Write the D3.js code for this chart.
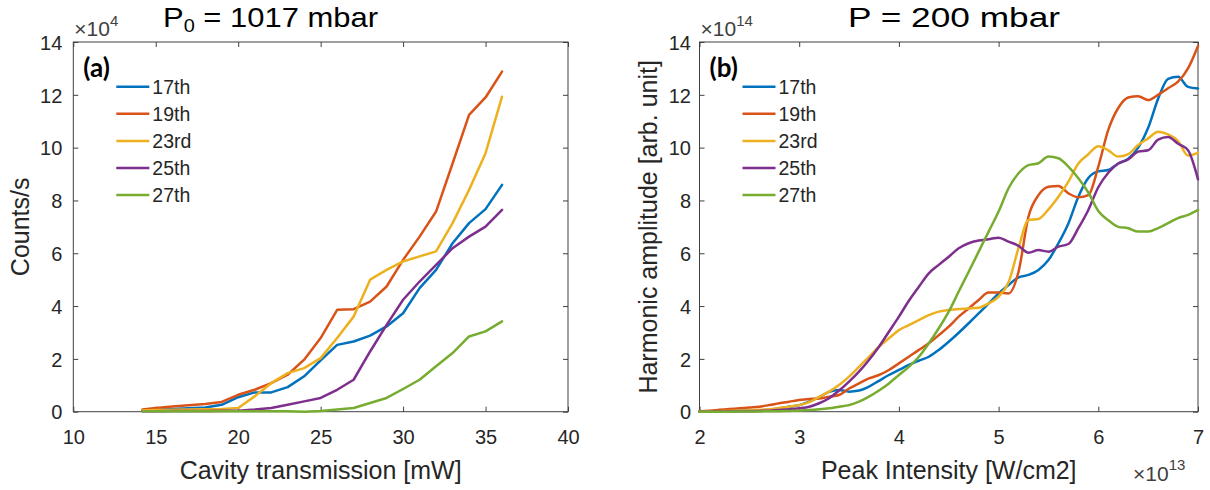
<!DOCTYPE html>
<html>
<head>
<meta charset="utf-8">
<script src="https://cdn.jsdelivr.net/npm/d3@7"></script>
<style>
  html, body { margin: 0; padding: 0; background: #fff; }
  svg { display: block; }
  text { font-family: "Liberation Sans", Arial, sans-serif; fill: #262626; }
</style>
</head>
<body>
<svg id="chart" width="1210" height="490"></svg>
<script>
// ---- data -------------------------------------------------------------
const harmonics = ["17th", "19th", "23rd", "25th", "27th"];

// (a) counts (x 10^4 /s) versus cavity transmission (mW), P0 = 1017 mbar
const powerMW = [14.2, 15, 16, 17, 18, 19, 20, 21, 22, 23, 24, 25, 26, 27, 28, 29, 30, 31, 32, 33, 34, 35, 36];
const counts17 = [0.05, 0.08, 0.10, 0.13, 0.16, 0.26, 0.55, 0.73, 0.73, 0.93, 1.34, 1.94, 2.53, 2.66, 2.88, 3.23, 3.73, 4.68, 5.37, 6.38, 7.14, 7.67, 8.59];
const counts19 = [0.08, 0.14, 0.20, 0.24, 0.29, 0.37, 0.64, 0.83, 1.08, 1.40, 1.97, 2.79, 3.86, 3.88, 4.17, 4.74, 5.75, 6.63, 7.58, 9.40, 11.24, 11.90, 12.88];
const counts23 = [0.05, 0.06, 0.07, 0.08, 0.09, 0.10, 0.14, 0.58, 1.08, 1.46, 1.65, 2.03, 2.79, 3.60, 5.00, 5.37, 5.69, 5.88, 6.07, 7.14, 8.40, 9.79, 11.93];
const counts25 = [0.02, 0.02, 0.03, 0.03, 0.03, 0.04, 0.04, 0.08, 0.14, 0.26, 0.39, 0.52, 0.83, 1.21, 2.28, 3.29, 4.24, 4.93, 5.56, 6.19, 6.63, 7.01, 7.64];
const counts27 = [0.02, 0.02, 0.02, 0.02, 0.02, 0.02, 0.02, 0.02, 0.02, 0.02, 0.00, 0.03, 0.08, 0.14, 0.33, 0.52, 0.86, 1.21, 1.72, 2.22, 2.85, 3.04, 3.42];

// (b) harmonic amplitude (x 10^14 arb. unit) versus peak intensity (x 10^13 W/cm2), P = 200 mbar
const intensity = [2.0, 2.1, 2.2, 2.3, 2.4, 2.5, 2.6, 2.7, 2.8, 2.9,
                   3.0, 3.1, 3.2, 3.3, 3.4, 3.5, 3.6, 3.7, 3.8, 3.9,
                   4.0, 4.1, 4.2, 4.3, 4.4, 4.5, 4.6, 4.7, 4.8, 4.9,
                   5.0, 5.1, 5.2, 5.3, 5.4, 5.5, 5.6, 5.7, 5.8, 5.9,
                   6.0, 6.1, 6.2, 6.3, 6.4, 6.5, 6.6, 6.7, 6.8, 6.9, 7.0];
const amp17 = [0.00, 0.01, 0.02, 0.03, 0.04, 0.05, 0.05, 0.07, 0.12, 0.19,
               0.25, 0.38, 0.55, 0.75, 0.82, 0.76, 0.80, 0.95, 1.17, 1.39,
               1.58, 1.77, 1.93, 2.08, 2.34, 2.65, 2.99, 3.35, 3.72, 4.10,
               4.48, 4.80, 5.09, 5.18, 5.37, 5.74, 6.38, 7.13, 8.14, 8.85,
               9.10, 9.15, 9.40, 9.58, 10.00, 10.75, 11.85, 12.60, 12.68, 12.30, 12.24];
const amp19 = [0.02, 0.04, 0.07, 0.10, 0.13, 0.16, 0.19, 0.25, 0.32, 0.38,
               0.44, 0.48, 0.50, 0.57, 0.63, 0.88, 1.07, 1.26, 1.39, 1.58,
               1.83, 2.08, 2.34, 2.59, 2.90, 3.22, 3.60, 3.91, 4.23, 4.51,
               4.51, 4.48, 5.30, 7.39, 8.20, 8.52, 8.55, 8.27, 8.12, 8.20,
               9.28, 10.67, 11.50, 11.90, 11.95, 11.80, 12.00, 12.25, 12.50, 13.00, 13.85];
const amp23 = [0.00, 0.01, 0.02, 0.03, 0.04, 0.05, 0.07, 0.09, 0.14, 0.19,
               0.25, 0.36, 0.56, 0.76, 1.01, 1.33, 1.70, 2.08, 2.46, 2.78,
               3.09, 3.28, 3.47, 3.66, 3.79, 3.85, 3.89, 3.91, 3.94, 4.10,
               4.36, 4.90, 6.20, 7.26, 7.30, 7.66, 8.14, 8.71, 9.40, 9.75,
               10.05, 9.90, 9.66, 9.75, 10.10, 10.35, 10.60, 10.50, 10.25, 9.70, 9.80];
const amp25 = [0.00, 0.00, 0.01, 0.01, 0.02, 0.02, 0.03, 0.04, 0.06, 0.09,
               0.13, 0.19, 0.32, 0.51, 0.80, 1.14, 1.52, 1.96, 2.46, 3.03,
               3.60, 4.20, 4.73, 5.24, 5.56, 5.87, 6.19, 6.38, 6.48, 6.53,
               6.59, 6.44, 6.28, 6.02, 6.12, 6.06, 6.25, 6.35, 6.95, 7.64,
               8.50, 9.05, 9.40, 9.55, 9.85, 9.90, 10.30, 10.40, 10.15, 9.90, 8.80];
const amp27 = [0.00, 0.00, 0.00, 0.00, 0.01, 0.01, 0.01, 0.02, 0.02, 0.03,
               0.04, 0.06, 0.09, 0.13, 0.19, 0.25, 0.38, 0.57, 0.80, 1.07,
               1.39, 1.70, 2.08, 2.59, 3.16, 3.79, 4.55, 5.30, 6.06, 6.82,
               7.58, 8.46, 9.03, 9.34, 9.41, 9.66, 9.60, 9.28, 8.84, 8.30,
               7.60, 7.25, 7.00, 6.95, 6.82, 6.82, 6.95, 7.14, 7.33, 7.45, 7.64];

// tick values
const yTicks = [0, 2, 4, 6, 8, 10, 12, 14];
const powerTicks = [10, 15, 20, 25, 30, 35, 40];
const intensityTicks = [2, 3, 4, 5, 6, 7];

// ---- drawing ----------------------------------------------------------
const colors = ["#0072BD", "#D95319", "#EDB120", "#7E2F8E", "#77AC30"];
const axisColor = "#404040";
const svg = d3.select("#chart");

function drawPanel(p) {
  const x = d3.scaleLinear().domain([p.xTicks[0], p.xTicks[p.xTicks.length - 1]]).range([p.left, p.right]);
  const y = d3.scaleLinear().domain([0, 14]).range([p.bottom, p.top]);
  const g = svg.append("g");

  // bottom axis with labels, ticks pointing inward
  g.append("g")
    .attr("transform", `translate(0,${p.bottom})`)
    .attr("color", axisColor)
    .call(d3.axisBottom(x).tickValues(p.xTicks).tickSizeInner(-5).tickSizeOuter(0).tickPadding(0).tickFormat(d3.format("d")))
    .call(a => {
      a.select(".domain").remove();
      a.selectAll("text").attr("y", 32).attr("dy", 0)
        .style("font-size", "20px").style("fill", "#262626");
    });
  // top axis: ticks only
  g.append("g")
    .attr("transform", `translate(0,${p.top})`)
    .attr("color", axisColor)
    .call(d3.axisTop(x).tickValues(p.xTicks).tickSizeInner(-5).tickSizeOuter(0).tickFormat(""))
    .call(a => a.select(".domain").remove());
  // left axis with labels
  g.append("g")
    .attr("transform", `translate(${p.left},0)`)
    .attr("color", axisColor)
    .call(d3.axisLeft(y).tickValues(yTicks).tickSizeInner(-5).tickSizeOuter(0).tickPadding(p.yPad).tickFormat(d3.format("d")))
    .call(a => {
      a.select(".domain").remove();
      a.selectAll("text").attr("dy", "0.36em")
        .style("font-size", "20px").style("fill", "#262626");
    });
  // right axis: ticks only
  g.append("g")
    .attr("transform", `translate(${p.right},0)`)
    .attr("color", axisColor)
    .call(d3.axisRight(y).tickValues(yTicks).tickSizeInner(-5).tickSizeOuter(0).tickFormat(""))
    .call(a => a.select(".domain").remove());

  // axes box
  g.append("rect")
    .attr("x", p.left).attr("y", p.top)
    .attr("width", p.right - p.left).attr("height", p.bottom - p.top)
    .attr("fill", "none").attr("stroke", axisColor).attr("stroke-width", 1);

  // data lines
  const line = d3.line().x(d => x(d[0])).y(d => y(d[1])).curve(p.curve);
  p.series.forEach((vals, i) => {
    g.append("path")
      .datum(p.xs.map((xv, j) => [xv, vals[j]]))
      .attr("d", line)
      .attr("fill", "none")
      .attr("stroke", colors[i])
      .attr("stroke-width", 2.5)
      .attr("stroke-linejoin", "round")
      .attr("stroke-linecap", "round");
  });

  // panel letter
  g.append("text")
    .attr("x", p.left + 10).attr("y", 77)
    .style("font-family", "Lato, 'Open Sans', sans-serif")
    .style("font-weight", 700).style("font-size", "26px").style("fill", "#000")
    .text(p.letter);

  // legend
  const legendRows = [86.7, 113.8, 140.9, 168, 195.1];
  harmonics.forEach((h, i) => {
    g.append("line")
      .attr("x1", p.left + 43).attr("x2", p.left + 76)
      .attr("y1", legendRows[i]).attr("y2", legendRows[i])
      .attr("stroke", colors[i]).attr("stroke-width", 2.5);
    g.append("text")
      .attr("x", p.left + 79).attr("y", legendRows[i] + 7)
      .style("font-size", "19.5px")
      .text(h);
  });

  // x label
  g.append("text")
    .attr("x", (p.left + p.right) / 2).attr("y", 479)
    .attr("text-anchor", "middle").style("font-size", "25px")
    .text(p.xLabel);
  // y label
  g.append("text")
    .attr("transform", `translate(${p.yLabelX},${(p.top + p.bottom) / 2}) rotate(-90)`)
    .attr("text-anchor", "middle").style("font-size", "25px")
    .text(p.yLabel);

  // y exponent above the axis
  const ey = g.append("text").attr("x", p.left + 1).attr("y", 36).style("font-size", "21px").style("fill", "#404040");
  ey.append("tspan").text("\u00d710");
  ey.append("tspan").attr("dy", -10).style("font-size", "15px").text(p.yExp);

  // title
  const t = g.append("text")
    .attr("x", p.titleX).attr("y", 26.5)
    .attr("textLength", p.titleW).attr("lengthAdjust", "spacingAndGlyphs")
    .style("font-size", "28px").style("fill", "#000").style("white-space", "pre");
  p.title(t);
  return { x, y, g };
}

drawPanel({
  left: 73.3, right: 568, top: 42, bottom: 411.7,
  xTicks: powerTicks, xs: powerMW,
  series: [counts17, counts19, counts23, counts25, counts27],
  curve: d3.curveLinear, yPad: 11,
  letter: "(a)",
  xLabel: "Cavity transmission [mW]", yLabel: "Counts/s", yLabelX: 28.5, yExp: "4",
  titleX: 163, titleW: 215,
  title: t => {
    t.append("tspan").text("P");
    t.append("tspan").attr("dy", 5).style("font-size", "18px").text("0");
    t.append("tspan").attr("dy", -5).text(" = 1017 mbar");
  }
});

drawPanel({
  left: 699.5, right: 1198, top: 42, bottom: 411.7,
  xTicks: intensityTicks, xs: intensity,
  series: [amp17, amp19, amp23, amp25, amp27],
  curve: d3.curveMonotoneX, yPad: 8.5,
  letter: "(b)",
  xLabel: "Peak Intensity [W/cm2]", yLabel: "Harmonic amplitude [arb. unit]", yLabelX: 657, yExp: "14",
  titleX: 848, titleW: 212,
  title: t => t.text("P = 200 mbar")
});

// x exponent of panel (b)
const ex = svg.append("text").attr("x", 1133).attr("y", 481).style("font-size", "21px").style("fill", "#404040");
ex.append("tspan").text("\u00d710");
ex.append("tspan").attr("dy", -11).style("font-size", "15px").text("13");
</script>
</body>
</html>
